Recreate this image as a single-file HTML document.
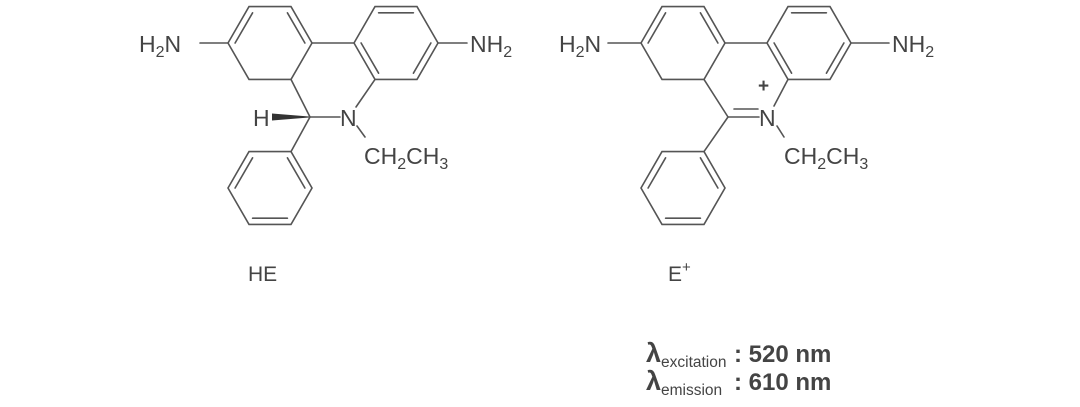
<!DOCTYPE html>
<html><head><meta charset="utf-8"><style>
html,body{margin:0;padding:0;background:#fff;}
svg{display:block;}
text{font-family:"Liberation Sans",sans-serif;fill:#444;}
</style></head><body>
<svg width="1080" height="407" viewBox="0 0 1080 407" xmlns="http://www.w3.org/2000/svg">
<g stroke="#555" stroke-width="1.6" fill="none" stroke-linecap="round">
<!-- HE -->
<polygon points="228,43 249,6.6 291,6.6 312,43 291,79.4 249,79.4"/>
<line x1="235.1" y1="43" x2="252.6" y2="12.8"/><line x1="287.4" y1="12.8" x2="304.9" y2="43"/>
<polygon points="354,43 375,6.6 417,6.6 438,43 417,79.4 375,79.4"/>
<line x1="378.6" y1="12.8" x2="413.4" y2="12.8"/><line x1="430.9" y1="43" x2="413.4" y2="73.2"/><line x1="361.1" y1="43" x2="378.6" y2="73.2"/>
<polygon points="228,188 249,151.6 291,151.6 312,188 291,224.4 249,224.4"/>
<line x1="287.4" y1="157.8" x2="304.9" y2="188"/><line x1="252.6" y1="218.2" x2="287.4" y2="218.2"/><line x1="235.1" y1="188" x2="252.6" y2="157.8"/>
<line x1="312" y1="43" x2="354" y2="43"/>
<line x1="291" y1="79.4" x2="310" y2="117"/>
<line x1="375" y1="79.4" x2="356" y2="107"/>
<line x1="310" y1="117" x2="340" y2="117"/>
<line x1="310" y1="117" x2="291" y2="151.6"/>
<line x1="357" y1="126" x2="365" y2="137"/>
<line x1="200" y1="43" x2="228" y2="43"/>
<line x1="438" y1="43" x2="467" y2="43"/>
<!-- E+ -->
<polygon points="641,43 662,6.6 704,6.6 725,43 704,79.4 662,79.4"/>
<line x1="648.1" y1="43" x2="665.6" y2="12.8"/><line x1="700.4" y1="12.8" x2="717.9" y2="43"/>
<polygon points="767,43 788,6.6 830,6.6 851,43 830,79.4 788,79.4"/>
<line x1="791.6" y1="12.8" x2="826.4" y2="12.8"/><line x1="843.9" y1="43" x2="826.4" y2="73.2"/><line x1="774.1" y1="43" x2="791.6" y2="73.2"/>
<polygon points="641,188 662,151.6 704,151.6 725,188 704,224.4 662,224.4"/>
<line x1="700.4" y1="157.8" x2="717.9" y2="188"/><line x1="665.6" y1="218.2" x2="700.4" y2="218.2"/><line x1="648.1" y1="188" x2="665.6" y2="157.8"/>
<line x1="725" y1="43" x2="767" y2="43"/>
<line x1="704" y1="79.4" x2="728" y2="117"/>
<line x1="788" y1="79.4" x2="774" y2="106"/>
<line x1="728" y1="117" x2="759" y2="117"/>
<line x1="734" y1="109" x2="758" y2="109"/>
<line x1="728" y1="117" x2="704" y2="151.6"/>
<line x1="777" y1="126" x2="784" y2="137"/>
<line x1="608" y1="43" x2="641" y2="43"/>
<line x1="851" y1="43" x2="889" y2="43"/>
</g>
<polygon points="272,113.5 272,120.5 309,117.5 309,116.5" fill="#333"/>
<g font-size="23">
<text x="139" y="52">H<tspan font-size="16" dy="5">2</tspan><tspan dy="-5">N</tspan></text>
<text x="470" y="52">NH<tspan font-size="16" dy="5">2</tspan></text>
<text x="253" y="126">H</text>
<text x="340" y="126">N</text>
<text x="364" y="164">CH<tspan font-size="16" dy="5">2</tspan><tspan dy="-5">CH</tspan><tspan font-size="16" dy="5">3</tspan></text>
<text x="559" y="52">H<tspan font-size="16" dy="5">2</tspan><tspan dy="-5">N</tspan></text>
<text x="892" y="52">NH<tspan font-size="16" dy="5">2</tspan></text>
<text x="759" y="126">N</text>
<text x="758" y="92" font-size="19" font-weight="bold">+</text>
<text x="784" y="164">CH<tspan font-size="16" dy="5">2</tspan><tspan dy="-5">CH</tspan><tspan font-size="16" dy="5">3</tspan></text>
<text x="248" y="281" font-size="21">HE</text>
<text x="668" y="281" font-size="21">E<tspan font-size="15" dy="-9">+</tspan></text>
</g>
<g font-weight="bold">
<text x="646" y="362" font-size="27">λ</text>
<text x="661" y="367" font-size="15.5" font-weight="normal">excitation</text>
<text x="734" y="362" font-size="24">: 520 nm</text>
<text x="646" y="390" font-size="27">λ</text>
<text x="661" y="395" font-size="15.5" font-weight="normal">emission</text>
<text x="734" y="390" font-size="24">: 610 nm</text>
</g>
</svg>
</body></html>
